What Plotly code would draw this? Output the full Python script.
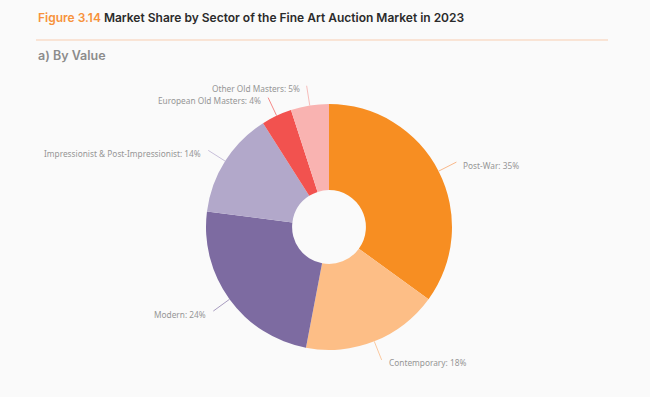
import math
import plotly.graph_objects as go

sectors = ["Post-War", "Contemporary", "Modern", "Impressionist & Post-Impressionist",
           "European Old Masters", "Other Old Masters"]
shares = [35, 18, 24, 14, 4, 5]
colors = ["#F78E22", "#FDBE86", "#7D6BA1", "#B2A8CA", "#F2524F", "#F9B3B1"]
line_colors = ["#F9B88A", "#FBC9A0", "#A89CC0", "#C8C0DA", "#F58A88", "#F7BDBB"]

W, H = 650, 397
cx, cy, R = 329, 227, 123  # pixel geometry of the pie (layout, not data)

fig = go.Figure()
fig.add_trace(go.Pie(
    labels=sectors, values=shares, sort=False, direction="clockwise", rotation=0,
    hole=0.3, marker=dict(colors=colors, line=dict(width=0)),
    textinfo="none", hoverinfo="label+percent", showlegend=False,
    domain=dict(x=[(cx - R) / W, (cx + R) / W], y=[(H - cy - R) / H, (H - cy + R) / H]),
))

annotations = []
shapes = []
total = sum(shares)
cum = 0
for name, v, lc in zip(sectors, shares, line_colors):
    mid = (cum + v / 2) / total * 2 * math.pi
    cum += v
    s, c = math.sin(mid), math.cos(mid)
    x0, y0 = cx + R * s, cy - R * c
    x1, y1 = cx + (R + 20) * s, cy - (R + 20) * c
    shapes.append(dict(type="line", xref="paper", yref="paper",
                       x0=x0 / W, y0=1 - y0 / H, x1=x1 / W, y1=1 - y1 / H,
                       line=dict(color=lc, width=1)))
    right = s >= 0
    tx = x1 + (5 if right else -5)
    annotations.append(dict(
        x=tx / W, y=1 - (y1 + 3) / H, xref="paper", yref="paper",
        text=f"{name}: {v}%", showarrow=False,
        xanchor="left" if right else "right", yanchor="middle",
        font=dict(family="Noto Sans, sans-serif", size=8.3, color="#969696"),
    ))

# Title, rule and subtitle
annotations.append(dict(
    x=36 / W, y=1 - 18 / H, xref="paper", yref="paper", xanchor="left", yanchor="middle",
    showarrow=False,
    text="<span style='color:#F7923A'>Figure 3.14</span> Market Share by Sector of the Fine Art Auction Market in 2023",
    font=dict(family="Inter, sans-serif", size=12, color="#2b2b2b", weight=600),
))
shapes.append(dict(type="line", xref="paper", yref="paper",
                   x0=36 / W, x1=608 / W, y0=1 - 40 / H, y1=1 - 40 / H,
                   line=dict(color="#F8CDB0", width=1)))
annotations.append(dict(
    x=36 / W, y=1 - 56 / H, xref="paper", yref="paper", xanchor="left", yanchor="middle",
    showarrow=False, text="a) By Value",
    font=dict(family="Inter, sans-serif", size=12.5, color="#8c8c8c", weight=600),
))

fig.update_layout(
    width=W, height=H, margin=dict(l=0, r=0, t=0, b=0),
    paper_bgcolor="#FAFAFA", plot_bgcolor="#FAFAFA",
    annotations=annotations, shapes=shapes,
)
fig.write_html("out.html", config={"displayModeBar": False},
               post_script="document.body.style.margin='0';document.body.style.background='#FAFAFA';")
